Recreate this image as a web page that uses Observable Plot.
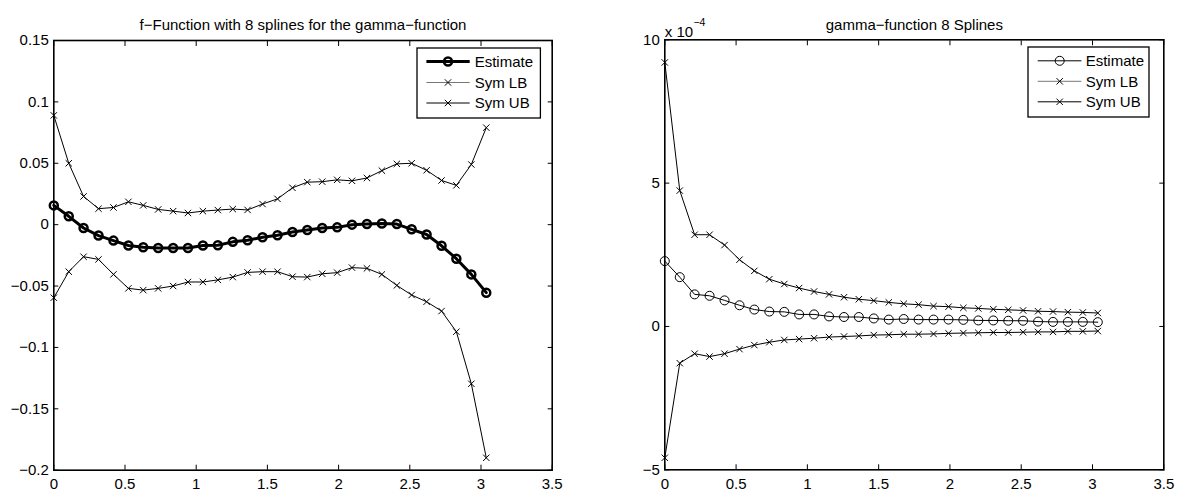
<!DOCTYPE html>
<html>
<head>
<meta charset="utf-8">
<script src="https://cdn.jsdelivr.net/npm/d3@7"></script>
<script src="https://cdn.jsdelivr.net/npm/@observablehq/plot@0.6"></script>
<style>
  html, body { margin: 0; padding: 0; background: #fff; }
  #chart { position: relative; width: 1184px; height: 495px; font-family: "Liberation Sans", Arial, sans-serif; }
  #chart > svg { position: absolute; top: 0; }
</style>
</head>
<body>
<div id="chart"></div>
<script>
// ---------- data ----------
const xs = [0, 0.105, 0.209, 0.314, 0.419, 0.524, 0.628, 0.733, 0.838, 0.942,
            1.047, 1.152, 1.257, 1.361, 1.466, 1.571, 1.676, 1.780, 1.885, 1.990,
            2.094, 2.199, 2.304, 2.409, 2.513, 2.618, 2.723, 2.827, 2.932, 3.037];

const xTicks = [0, 0.5, 1, 1.5, 2, 2.5, 3, 3.5];
const leftYTicks = [-0.2, -0.15, -0.1, -0.05, 0, 0.05, 0.1, 0.15];
const rightYTicks = [-5, 0, 5, 10];           // in units of 10^-4
const rightExponentBase = "x 10";
const rightExponent = "−4";

const seriesNames = ["Estimate", "Sym LB", "Sym UB"];
const leftTitle = "f−Function with 8 splines for the gamma−function";
const rightTitle = "gamma−function 8 Splines";

// left panel: f-function
const leftEst = [0.0157, 0.0068, -0.0027, -0.0089, -0.0130, -0.0170, -0.0184, -0.0190, -0.0190, -0.0190,
                 -0.0170, -0.0168, -0.0140, -0.0127, -0.0103, -0.0086, -0.0060, -0.0043, -0.0027, -0.0022,
                 0.0000, 0.0005, 0.0010, 0.0005, -0.0038, -0.0080, -0.0172, -0.0277, -0.0405, -0.0554];
const leftLB  = [-0.0595, -0.0383, -0.0261, -0.0283, -0.0405, -0.0519, -0.0533, -0.0519, -0.0500, -0.0467,
                 -0.0467, -0.0450, -0.0427, -0.0389, -0.0383, -0.0383, -0.0424, -0.0427, -0.0400, -0.0391,
                 -0.0350, -0.0356, -0.0405, -0.0495, -0.0573, -0.0628, -0.0704, -0.0872, -0.1296, -0.1899];
const leftUB  = [0.0890, 0.0500, 0.0230, 0.0130, 0.0140, 0.0186, 0.0157, 0.0124, 0.0110, 0.0095,
                 0.0110, 0.0119, 0.0127, 0.0120, 0.0168, 0.0210, 0.0300, 0.0346, 0.0350, 0.0365,
                 0.0357, 0.0380, 0.0440, 0.0495, 0.0500, 0.0443, 0.0360, 0.0320, 0.0490, 0.0790];

// right panel: gamma-function (values in units of 10^-4)
const rightEst = [2.28, 1.72, 1.12, 1.07, 0.91, 0.74, 0.59, 0.52, 0.51, 0.42,
                  0.42, 0.35, 0.33, 0.33, 0.28, 0.24, 0.26, 0.24, 0.24, 0.24,
                  0.23, 0.21, 0.21, 0.20, 0.20, 0.17, 0.16, 0.16, 0.16, 0.15];
const rightLB  = [-4.58, -1.28, -0.95, -1.05, -0.95, -0.79, -0.65, -0.55, -0.47, -0.44,
                  -0.41, -0.37, -0.35, -0.33, -0.30, -0.29, -0.27, -0.27, -0.26, -0.24,
                  -0.23, -0.22, -0.21, -0.21, -0.20, -0.19, -0.19, -0.17, -0.17, -0.16];
const rightUB  = [9.21, 4.74, 3.20, 3.20, 2.84, 2.33, 1.94, 1.65, 1.48, 1.34,
                  1.22, 1.12, 1.02, 0.95, 0.90, 0.84, 0.79, 0.76, 0.71, 0.69,
                  0.65, 0.63, 0.60, 0.58, 0.56, 0.53, 0.52, 0.50, 0.49, 0.47];

// ---------- drawing ----------
const FONT = "'Liberation Sans', Arial, Helvetica, sans-serif";
const fmt = d3.format("~g");
const rows = s => xs.map((x, i) => ({x, y: s[i]}));
const chart = document.getElementById("chart");

function panel(o) {
  const marks = [
    Plot.axisX({anchor: "bottom", ticks: xTicks, tickSize: -5, tickPadding: 13.6, tickFormat: fmt, label: null}),
    Plot.axisX({anchor: "top", ticks: xTicks, tickSize: -5, tickFormat: () => "", label: null}),
    Plot.axisY({anchor: "left", ticks: o.yTicks, tickSize: -5, tickPadding: 10, tickFormat: fmt, label: null}),
    Plot.axisY({anchor: "right", ticks: o.yTicks, tickSize: -5, tickFormat: () => "", label: null}),
    Plot.frame({stroke: "black", strokeWidth: 1.6}),
    Plot.line(rows(o.ub), {x: "x", y: "y", stroke: "black", strokeWidth: 1}),
    Plot.dot(rows(o.ub), {x: "x", y: "y", symbol: "times", r: 3, stroke: "black", strokeWidth: 1}),
    Plot.line(rows(o.lb), {x: "x", y: "y", stroke: "black", strokeWidth: 1}),
    Plot.dot(rows(o.lb), {x: "x", y: "y", symbol: "times", r: 3, stroke: "black", strokeWidth: 1}),
    Plot.line(rows(o.est), {x: "x", y: "y", stroke: "black", strokeWidth: o.estWidth}),
    Plot.dot(rows(o.est), {x: "x", y: "y", symbol: "circle", r: o.estR, stroke: "black", fill: "none", strokeWidth: o.estSW}),
    Plot.text([o.title], {text: d => d, frameAnchor: "top", dy: o.titleDy, fontSize: 15}),
    ...(o.extra || [])
  ];
  const svg = Plot.plot({
    width: o.width, height: 495,
    marginLeft: o.ml, marginRight: o.mr, marginTop: o.mt, marginBottom: o.mb,
    style: {fontFamily: FONT, fontSize: "15px", background: "transparent", color: "black", overflow: "visible"},
    x: {domain: [0, 3.5]},
    y: {domain: o.yDomain},
    marks
  });
  svg.style.left = o.left + "px";
  chart.appendChild(svg);
}

panel({
  left: 0, width: 600, ml: 53.3, mr: 48.3, mt: 40, mb: 25.3,
  yDomain: [-0.2, 0.15], yTicks: leftYTicks,
  est: leftEst, lb: leftLB, ub: leftUB,
  estWidth: 3, estR: 4, estSW: 2.5,
  title: leftTitle, titleDy: -20.7
});

panel({
  left: 600, width: 584, ml: 64.3, mr: 20.7, mt: 39.3, mb: 25.7,
  yDomain: [-5, 10], yTicks: rightYTicks,
  est: rightEst, lb: rightLB, ub: rightUB,
  estWidth: 1, estR: 4.5, estSW: 1,
  title: rightTitle, titleDy: -20,
  extra: [
    Plot.text([rightExponentBase], {text: d => d, frameAnchor: "top-left", textAnchor: "start", dy: -13.9, fontSize: 15}),
    Plot.text([rightExponent], {text: d => d, frameAnchor: "top-left", textAnchor: "start", dx: 28.6, dy: -21, fontSize: 10.5})
  ]
});

// ---------- legends ----------
function legend(o) {
  const svg = d3.select(chart).append("svg")
    .attr("width", o.width + 2).attr("height", o.height + 2)
    .style("left", (o.left - 1) + "px").style("top", (o.top - 1) + "px")
    .style("font-family", FONT).style("font-size", "15px");
  svg.append("rect").attr("x", 1).attr("y", 1).attr("width", o.width).attr("height", o.height)
    .attr("fill", "white").attr("stroke", "black").attr("stroke-width", 1.3);
  o.items.forEach((it, i) => {
    const y = 1 + o.rowY[i];
    const g = svg.append("g");
    g.append("line").attr("x1", 1 + o.lineX1).attr("x2", 1 + o.lineX2).attr("y1", y).attr("y2", y)
      .attr("stroke", it.lineColor).attr("stroke-width", it.lineWidth);
    g.append("path")
      .attr("d", d3.symbol(it.symbol === "circle" ? d3.symbolCircle : d3.symbolTimes, Math.PI * it.r * it.r)())
      .attr("transform", `translate(${1 + o.markX},${y})`)
      .attr("fill", "none").attr("stroke", "black").attr("stroke-width", it.markWidth);
    g.append("text").attr("x", 1 + o.textX).attr("y", y).attr("dy", "0.35em").text(seriesNames[i]);
  });
}

legend({
  left: 417.3, top: 48, width: 123.4, height: 70,
  rowY: [13.5, 34.5, 55], lineX1: 9.4, lineX2: 52.7, markX: 31, textX: 57.7,
  items: [
    {symbol: "circle", r: 4, lineColor: "black", lineWidth: 3, markWidth: 2.5},
    {symbol: "times", r: 3, lineColor: "#777", lineWidth: 1, markWidth: 1},
    {symbol: "times", r: 3, lineColor: "black", lineWidth: 1, markWidth: 1}
  ]
});

legend({
  left: 1028.3, top: 47.3, width: 121, height: 70,
  rowY: [13.8, 34.3, 54.8], lineX1: 9.7, lineX2: 53.4, markX: 31.7, textX: 57.7,
  items: [
    {symbol: "circle", r: 4.5, lineColor: "black", lineWidth: 1, markWidth: 1},
    {symbol: "times", r: 3, lineColor: "#777", lineWidth: 1, markWidth: 1},
    {symbol: "times", r: 3, lineColor: "black", lineWidth: 1, markWidth: 1}
  ]
});
</script>
</body>
</html>
